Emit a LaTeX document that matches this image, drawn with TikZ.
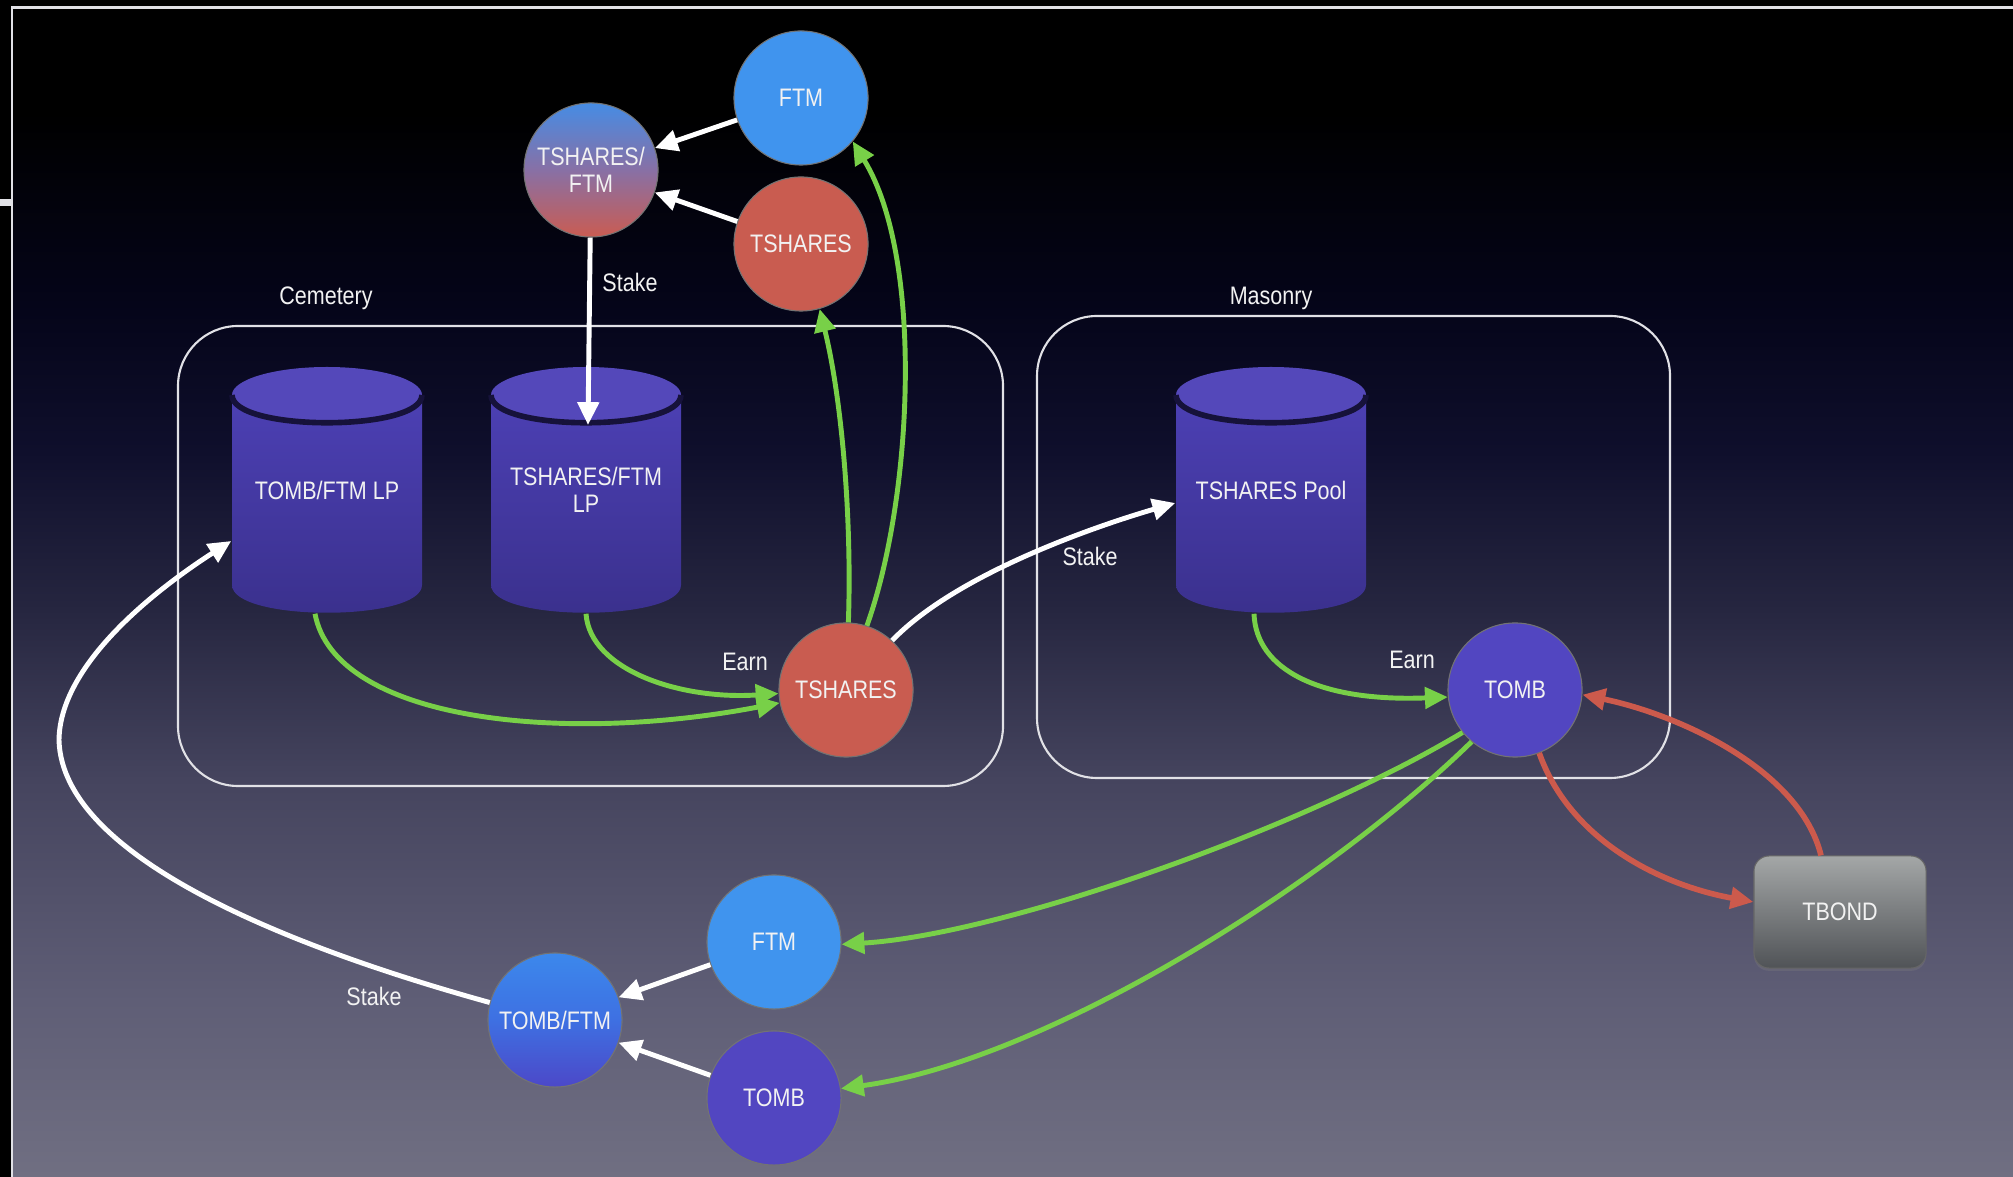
\documentclass[tikz,border=0pt]{standalone}
\usepackage{fontspec}
\setmainfont{Liberation Sans}[FakeStretch=0.85]
\usetikzlibrary{arrows.meta,shadows}

\definecolor{ftmBlue}{RGB}{64,148,238}
\definecolor{tshRed}{RGB}{201,92,80}
\definecolor{tombPurple}{RGB}{82,70,193}
\definecolor{mixTop}{RGB}{70,140,228}
\definecolor{mixMid}{RGB}{136,112,165}
\definecolor{mixBot}{RGB}{202,92,82}
\definecolor{lpTop}{RGB}{60,136,236}
\definecolor{lpMid}{RGB}{62,112,226}
\definecolor{lpBot}{RGB}{76,72,200}
\definecolor{earnGreen}{RGB}{120,208,72}
\definecolor{bondRed}{RGB}{204,90,76}
\definecolor{cylCap}{RGB}{84,72,186}
\definecolor{cylTop}{RGB}{76,64,180}
\definecolor{cylBot}{RGB}{58,48,140}
\definecolor{cylRim}{RGB}{22,18,58}
\definecolor{boxLine}{RGB}{225,225,230}
\definecolor{labelWhite}{RGB}{242,242,242}
\definecolor{bondTop}{RGB}{164,167,167}
\definecolor{bondBot}{RGB}{80,83,87}
\definecolor{bgBot}{RGB}{112,111,130}
\definecolor{bgLow}{RGB}{95,94,118}
\definecolor{bgMid}{RGB}{69,68,94}
\definecolor{bgNavy}{RGB}{37,37,63}
\definecolor{bgDeep}{RGB}{15,15,44}
\definecolor{bgDark}{RGB}{5,5,26}

\pgfdeclareverticalshading{slidebg}{100bp}{color(0bp)=(bgBot); color(25bp)=(bgBot); color(32.5bp)=(bgLow); color(42bp)=(bgMid); color(49.5bp)=(bgNavy); color(56bp)=(bgDeep); color(62bp)=(bgDark); color(70.5bp)=(black); color(100bp)=(black)}

\newcommand{\tokenfont}{\fontsize{7.2}{7.8}\selectfont}

% cylinder: name, x, y of top, text
\newcommand{\lpcylinder}[4]{%
  \shade[top color=cylTop, bottom color=cylBot] (#2-95,#3) -- (#2-95,#3+190) .. controls (#2-95,#3+227) and (#2+95,#3+227) .. (#2+95,#3+190) -- (#2+95,#3) -- cycle;
  \fill[cylCap] (#2,#3) ellipse [x radius=95, y radius=28];
  \draw[cylRim, line width=1.6pt] (#2-95,#3) .. controls (#2-95,#3+37) and (#2+95,#3+37) .. (#2+95,#3);
  \node[cyltext] (#1) at (#2,#3+95) {#4};
}

\tikzset{
  coin/.style={circle, minimum size=1.34cm, inner sep=0pt, align=center, text=labelWhite, draw=black!55, line width=0.3pt, font=\tokenfont},
  cyltext/.style={minimum width=1.9cm, minimum height=2.46cm, inner sep=0pt, align=center, text=labelWhite, font=\tokenfont},
  bondbox/.style={rectangle, rounded corners=0.15cm, minimum width=1.72cm, minimum height=1.12cm, top color=bondTop, bottom color=bondBot, draw=black!60, line width=0.3pt, text=labelWhite, font=\tokenfont, drop shadow={opacity=0.3, shadow xshift=0pt, shadow yshift=-0.8pt}},
  tag/.style={text=labelWhite, font=\tokenfont},
  stakeflow/.style={white, line width=1.4pt, -{Triangle[length=6.5pt,width=6pt]}},
  earnflow/.style={earnGreen, line width=1.4pt, -{Triangle[length=6.5pt,width=6pt]}},
  bondflow/.style={bondRed, line width=1.6pt, -{Triangle[length=6.5pt,width=6pt]}}
}

\begin{document}
\begin{tikzpicture}[x=0.01cm, y=-0.01cm]
        \useasboundingbox (0,0) rectangle (2013,1177);
        % slide
        \fill[black] (0,0) rectangle (2013,1177);
        \shade[shading=slidebg] (12,7.5) rectangle (2013,1177);
        \draw[boxLine, line width=0.6pt] (12,1177) -- (12,7.5) -- (2013,7.5);
        \fill[boxLine] (0,199) rectangle (12,206);

        % Cemetery
        \node[tag] (cemLabel) at (326,298) {Cemetery};
        \draw[boxLine, line width=0.6pt, rounded corners=0.6cm] (178,326) rectangle (1003,786);
        \lpcylinder{lpTomb}{327}{395}{TOMB/FTM LP}
        \lpcylinder{lpTshares}{586}{395}{TSHARES/FTM\\LP}
        \node[coin, fill=tshRed] (tshMid) at (846,690) {TSHARES};
        \node[tag] (earnCem) at (745,662) {Earn};

        % Masonry
        \node[tag] (masLabel) at (1271,298) {Masonry};
        \draw[boxLine, line width=0.6pt, rounded corners=0.6cm] (1037,316) rectangle (1670,778);
        \lpcylinder{poolTsh}{1271}{395}{TSHARES Pool}
        \node[coin, fill=tombPurple] (tombMas) at (1515,690) {TOMB};
        \node[tag] (earnMas) at (1412,660) {Earn};

        % tokens at the top
        \node[coin, fill=ftmBlue] (ftmTop) at (801,98) {FTM};
        \node[coin, fill=tshRed] (tshTop) at (801,244) {TSHARES};
        \node[coin, top color=mixTop, bottom color=mixBot, middle color=mixMid] (tshFtm) at (591,170) {TSHARES/\\FTM};
        \node[tag] (stakeLp) at (630,282) {Stake};

        % tokens at the bottom
        \node[coin, fill=ftmBlue] (ftmBot) at (774,942) {FTM};
        \node[coin, fill=tombPurple] (tombBot) at (774,1098) {TOMB};
        \node[coin, top color=lpTop, bottom color=lpBot, middle color=lpMid] (tombFtm) at (555,1020) {TOMB/FTM};
        \node[tag] (stakeLoop) at (374,996) {Stake};
        \node[bondbox] (tbond) at (1840,912) {TBOND};
        \node[tag] (stakePool) at (1090,556) {Stake};

        \coordinate (lpTsharesIn) at (588,425);
        \coordinate (loopWest) at (59,740);

        % stake arrows
        \draw[stakeflow] (ftmTop) -- (tshFtm);
        \draw[stakeflow] (tshTop) -- (tshFtm);
        \draw[stakeflow] (tshFtm) -- (lpTsharesIn);
        \draw[stakeflow] (ftmBot) -- (tombFtm);
        \draw[stakeflow] (tombBot) -- (tombFtm);
        \draw[stakeflow] (tombFtm.165) .. controls (300,950) and (62,860) .. (loopWest) .. controls (60,660) and (166,583) .. ([yshift=-0.51cm]lpTomb.west);
        \draw[stakeflow] (tshMid.47) .. controls (960,570) and (1110,522) .. ([yshift=-0.13cm]poolTsh.west);

        % earn arrows
        \draw[earnflow] ([xshift=-0.12cm]lpTomb.south) .. controls (335,720) and (560,745) .. (tshMid.191);
        \draw[earnflow] (lpTshares.south) .. controls (590,670) and (680,700) .. (tshMid.183);
        \draw[earnflow] (tshMid.88) .. controls (852,520) and (842,400) .. (tshTop.-74);
        \draw[earnflow] (tshMid.72) .. controls (912,500) and (925,260) .. (ftmTop.-40);
        \draw[earnflow] ([xshift=-0.17cm]poolTsh.south) .. controls (1256,670) and (1320,702) .. (tombMas.186);
        \draw[earnflow] (tombMas.219) .. controls (1300,830) and (1000,935) .. (ftmBot.-2);
        \draw[earnflow] (tombMas.230) .. controls (1330,880) and (1050,1060) .. (tombBot.8);

        % bond arrows
        \draw[bondflow] (tombMas.-69) .. controls (1570,840) and (1660,885) .. ([yshift=0.1cm]tbond.west);
        \draw[bondflow] ([xshift=-0.19cm]tbond.north) .. controls (1800,770) and (1680,715) .. (tombMas.-4);

\end{tikzpicture}
\end{document}
